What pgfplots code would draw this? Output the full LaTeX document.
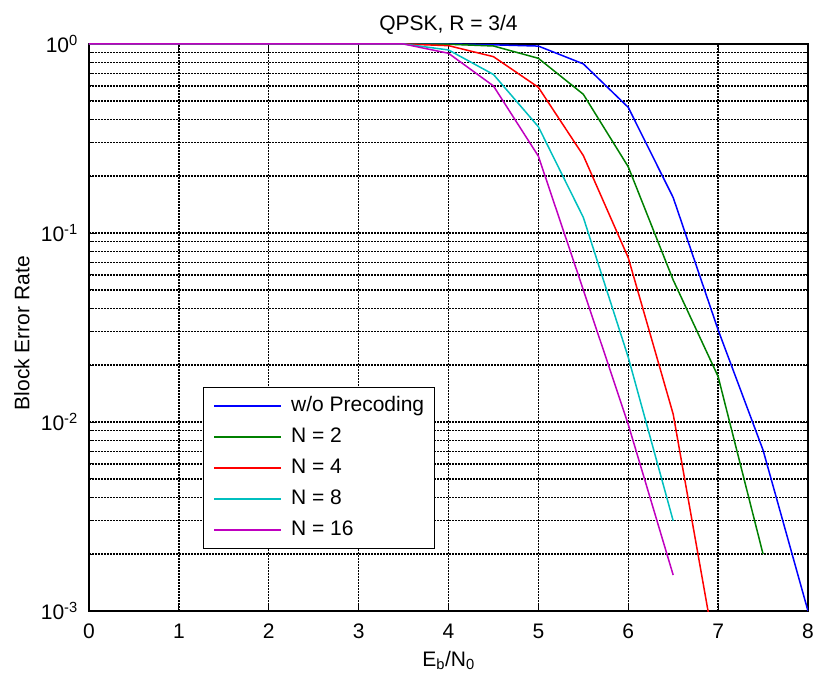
\documentclass[border=0pt]{standalone}
\usepackage{fontspec}
\setmainfont{Liberation Sans}
\usepackage{pgfplots}
\pgfplotsset{compat=1.18}
\definecolor{mb}{rgb}{0,0,1}
\definecolor{mg}{rgb}{0,0.5,0}
\definecolor{mr}{rgb}{1,0,0}
\definecolor{mc}{rgb}{0,0.75,0.75}
\definecolor{mm}{rgb}{0.75,0,0.75}
\begin{document}
\fontsize{21bp}{25bp}\selectfont
\begin{tikzpicture}
\begin{axis}[
  name=ax,
  scale only axis, width=719bp, height=567bp,
  xmin=0, xmax=8, ymin=1e-3, ymax=1,
  ymode=log,
  xtick={0,1,2,3,4,5,6,7,8},
  xticklabels={0,1,2,3,4,5,6,7,8},
  ytick={1e-3,1e-2,1e-1,1},
  yticklabels={10\textsuperscript{-3},10\textsuperscript{-2},10\textsuperscript{-1},10\textsuperscript{0}},
  minor ytick={2e-3,3e-3,4e-3,5e-3,6e-3,7e-3,8e-3,9e-3,
               2e-2,3e-2,4e-2,5e-2,6e-2,7e-2,8e-2,9e-2,
               2e-1,3e-1,4e-1,5e-1,6e-1,7e-1,8e-1,9e-1},
  xmajorgrids, ymajorgrids, yminorgrids,
  grid style={black, line width=1.3bp, dash pattern=on 2bp off 1bp},
  minor grid style={black, line width=1.3bp, dash pattern=on 2bp off 1bp},
  tick align=inside,
  major tick length=7bp, minor tick length=4bp,
  every tick/.style={black, line width=1bp},
  axis line style={black, line width=1.2bp},
  xticklabel style={anchor=north, inner sep=0pt, yshift=-13bp},
  yticklabel style={anchor=east, inner sep=0pt, xshift=-11bp},
  title={QPSK, R = 3/4},
  title style={at={(axis description cs:0.5,1)}, anchor=base, yshift=8bp, inner sep=0pt},
  xlabel={E\textsubscript{b}/N\textsubscript{0}},
  xlabel style={at={(axis description cs:0.5,0)}, anchor=base, yshift=-55bp, inner sep=0pt},
  ylabel={Block Error Rate},
  ylabel style={at={(axis description cs:-0.0932,0.49)}, anchor=center, inner sep=0pt},
  legend cell align=left,
  legend image code/.code={\draw[#1] (0bp,0bp) -- (67bp,0bp); \path (-2bp,0bp) (74bp,0bp);},
  legend style={at={(0.1586,0.395)}, anchor=north west, draw=black, line width=1.2bp,
    fill=white, inner xsep=8bp, inner ysep=7bp, row sep=8bp,
    nodes={inner sep=2bp, text height=15bp, text depth=4bp}},
]
\addplot[mb, line width=1.5bp] coordinates {
  (0,1)(0.5,1)(1,1)(1.5,1)(2,1)(2.5,1)(3,1)(3.5,1)(4,1)
  (4.5,0.99)(5,0.975)(5.5,0.785)(6,0.462)(6.5,0.154)(7,0.0307)(7.5,0.0071)(8,0.001)};
\addlegendentry{w/o Precoding}
\addplot[mg, line width=1.5bp] coordinates {
  (0,1)(0.5,1)(1,1)(1.5,1)(2,1)(2.5,1)(3,1)(3.5,1)(4,0.997)
  (4.5,0.976)(5,0.84)(5.5,0.542)(6,0.224)(6.5,0.0564)(7,0.0174)(7.5,0.002)};
\addlegendentry{N = 2}
\addplot[mr, line width=1.5bp] coordinates {
  (0,1)(0.5,1)(1,1)(1.5,1)(2,1)(2.5,1)(3,1)(3.5,1)(4,0.98)
  (4.5,0.857)(5,0.59)(5.5,0.257)(6,0.074)(6.5,0.011)(7,0.0005)};
\addlegendentry{N = 4}
\addplot[mc, line width=1.5bp] coordinates {
  (0,1)(0.5,1)(1,1)(1.5,1)(2,1)(2.5,1)(3,1)(3.5,1)(4,0.93)
  (4.5,0.69)(5,0.365)(5.5,0.121)(6,0.022)(6.5,0.003)};
\addlegendentry{N = 8}
\addplot[mm, line width=1.5bp] coordinates {
  (0,1)(0.5,1)(1,1)(1.5,1)(2,1)(2.5,1)(3,1)(3.5,1)(4,0.893)
  (4.5,0.6)(5,0.255)(5.5,0.05)(6,0.0097)(6.5,0.00155)};
\addlegendentry{N = 16}
\end{axis}
\pgfresetboundingbox
\path[use as bounding box] (ax.south west) ++(-89bp,-68bp) rectangle ++(814bp,679bp);
\end{tikzpicture}
\end{document}
